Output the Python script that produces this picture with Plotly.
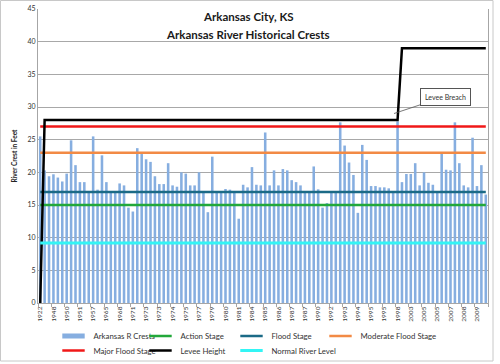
import plotly.graph_objects as go

# ---- data ----
crest_labels = ["1922", "1948", "1950", "1951", "1957", "1965", "1968", "1971", "1973",
                "1973", "1974", "1975", "1977", "1979", "1980", "1981", "1984", "1985",
                "1986", "1987", "1987", "1990", "1992", "1993", "1994", "1995", "1995",
                "1998", "2003", "2005", "2005", "2007", "2008", "2009"]
label_every = 3

crests = [25.5, 20.3, 19.4, 19.7, 19.2, 18.6, 19.8, 24.9, 21.1, 18.5,
          18.5, 17.1, 25.5, 17.35, 22.6, 18.5, 17.0, 17.0, 18.3, 18.0,
          14.6, 14.0, 23.7, 22.8, 22.0, 21.6, 19.4, 18.2, 18.2, 21.4,
          18.0, 17.8, 20.0, 19.8, 18.0, 18.0, 20.0, 17.0, 13.9, 22.4,
          17.0, 16.9, 17.45, 17.35, 16.9, 12.9, 18.1, 17.7, 20.8, 18.1,
          18.0, 26.1, 18.0, 20.3, 18.0, 20.5, 20.3, 18.8, 18.5, 18.0,
          17.0, 17.0, 20.9, 17.4, 14.6, 15.3, 17.0, 17.0, 27.65, 24.1,
          21.5, 19.6, 13.8, 24.2, 21.9, 17.9, 17.9, 17.7, 17.7, 17.55,
          17.0, 27.8, 18.5, 19.75, 19.75, 21.4, 18.0, 20.0, 18.4, 18.1,
          17.0, 22.9, 20.4, 20.3, 27.65, 21.4, 18.0, 17.7, 25.3, 17.9,
          21.1, 16.6]

levee_height = [0] + [28] * 81 + [39] * 20

action_stage = 15
flood_stage = 17
moderate_flood_stage = 23
major_flood_stage = 27
normal_river_level = 9.2

FONT = "Lato"
W, H = 500, 364
ML, MR, MT, MB = 38, 12, 9, 61
PW, PH = W - ML - MR, H - MT - MB
BAR_COLOR = "#86AEE0"


def px_x(p):
    return (p - ML) / PW


def px_y(p):
    return 1 - (p - MT) / PH


# legend slot geometry (left px of legend box, row centre px)
COLS = [53.5, 140.5, 231.5, 320.5]
ROWS = [336, 350.5]

x = list(range(len(crests)))
ends = [x[0], x[-1]]

fig = go.Figure()
fig.add_trace(go.Bar(x=x, y=crests, name="Arkansas R Crests", showlegend=False,
                     marker=dict(color=BAR_COLOR, line=dict(width=0))))


def stage(name, value, color, width=2.5):
    fig.add_trace(go.Scatter(x=ends, y=[value, value], mode="lines", name=name,
                             line=dict(color=color, width=width), showlegend=False))


stage("Action Stage", action_stage, "#22A83A")
stage("Flood Stage", flood_stage, "#1B6A86")
stage("Moderate Flood Stage", moderate_flood_stage, "#F28A45")
stage("Major Flood Stage", major_flood_stage, "#F01818")
fig.add_trace(go.Scatter(x=x, y=levee_height, mode="lines", name="Levee Height",
                         line=dict(color="#000000", width=2.5), showlegend=False))
stage("Normal River Level", normal_river_level, "#33F5F5", 3)

# legend entries (short Excel-like swatches), one small legend per slot
legend_items = [
    ("legend", "Arkansas R Crests", BAR_COLOR, 5, (0, 0)),
    ("legend2", "Action Stage", "#22A83A", 2.5, (1, 0)),
    ("legend3", "Flood Stage", "#1B6A86", 2.5, (2, 0)),
    ("legend4", "Moderate Flood Stage", "#F28A45", 2.5, (3, 0)),
    ("legend5", "Major Flood Stage", "#F01818", 2.5, (0, 1)),
    ("legend6", "Levee Height", "#000000", 2.5, (1, 1)),
    ("legend7", "Normal River Level", "#33F5F5", 3, (2, 1)),
]
legend_layouts = {}
for lid, name, color, lw, (c, r) in legend_items:
    fig.add_trace(go.Scatter(x=[None], y=[None], mode="markers", name=name, legend=lid,
                             hoverinfo="skip",
                             marker=dict(symbol="line-ew", size=16,
                                         line=dict(color=color, width=lw))))
    legend_layouts[lid] = dict(orientation="h", xref="container", yref="container",
                               x=COLS[c] / W, y=1 - ROWS[r] / H,
                               xanchor="left", yanchor="middle",
                               font=dict(size=7.8, family=FONT, color="#333333"),
                               itemwidth=30, bgcolor="rgba(0,0,0,0)")

fig.update_layout(
    width=W, height=H,
    margin=dict(l=ML, r=MR, t=MT, b=MB),
    paper_bgcolor="white", plot_bgcolor="white",
    bargap=0.42,
    font=dict(family=FONT, color="#333333"),
    showlegend=True,
    **legend_layouts,
)

fig.update_xaxes(range=[-0.5, len(crests) - 0.5], automargin=False,
                 tickmode="array", tickvals=x[::label_every], ticktext=crest_labels,
                 tickangle=-90, tickfont=dict(size=6.5, family=FONT, color="#333333"),
                 showgrid=False, showline=True, linecolor="#A6A6A6", linewidth=1,
                 ticks="", zeroline=False,
                 minor=dict(ticks="outside", tick0=-0.5, dtick=label_every,
                            ticklen=3, tickcolor="#A6A6A6"))
fig.update_yaxes(range=[0, 45], tickvals=list(range(0, 46, 5)), automargin=False,
                 tickfont=dict(size=7, family=FONT, color="#333333"),
                 showgrid=True, gridcolor="#A8A8A8", gridwidth=1,
                 showline=True, linecolor="#A6A6A6", linewidth=1, mirror=True,
                 zeroline=False, ticks="", ticklen=0,
                 title=dict(text="<b>River Crest in Feet</b>", standoff=9,
                            font=dict(size=6.5, family=FONT, color="#222222")))

# Title (two lines)
fig.add_annotation(text="<b>Arkansas City, KS</b>", xref="paper", yref="paper",
                   x=px_x(248), y=px_y(16), xanchor="center", yanchor="middle",
                   showarrow=False, font=dict(size=11.5, family=FONT, color="#1a1a1a"))
fig.add_annotation(text="<b>Arkansas River Historical Crests</b>", xref="paper", yref="paper",
                   x=px_x(248), y=px_y(34), xanchor="center", yanchor="middle",
                   showarrow=False, font=dict(size=11.5, family=FONT, color="#1a1a1a"))

# Levee breach callout
fig.add_annotation(text="Levee Breach", x=80.2, y=29, xref="x", yref="y",
                   showarrow=True, arrowhead=0, arrowwidth=0.8, arrowcolor="#555555",
                   ax=51, ay=-17, bgcolor="white", bordercolor="#555555", borderwidth=1,
                   borderpad=4, font=dict(size=7, family=FONT, color="#333333"))

# chart frame
fig.add_shape(type="rect", xref="paper", yref="paper",
              x0=px_x(0.5), x1=px_x(493), y0=px_y(361), y1=px_y(0.5),
              line=dict(color="#C8C8C8", width=1), layer="below")

fig.write_html("out.html", config={"displayModeBar": False},
               post_script="document.body.style.margin='0px';")
